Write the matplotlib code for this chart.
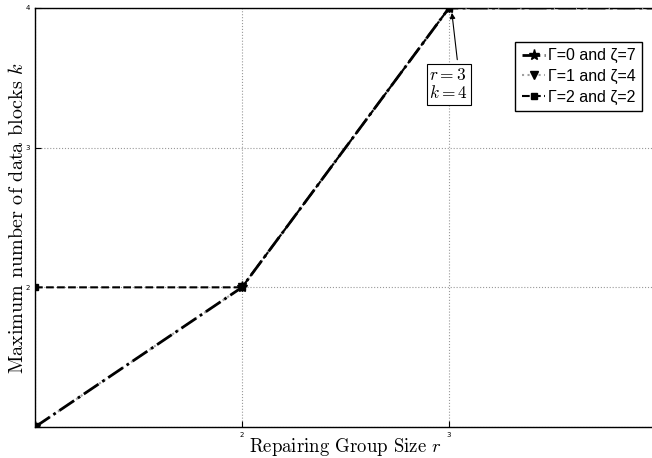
import matplotlib
matplotlib.use("Agg")
import matplotlib.pyplot as plt

plt.rcParams['mathtext.fontset'] = 'cm'

# data
r = [1, 2, 3, 4]
k_g0 = [1, 2, 4, 4]    # Gamma=0, zeta=7
k_g1 = [1, 2, 4, 4]    # Gamma=1, zeta=4
k_g2 = [2, 2, 4, 4]    # Gamma=2, zeta=2
labels = [u'Γ=0 and ζ=7', u'Γ=1 and ζ=4', u'Γ=2 and ζ=2']

fig = plt.figure(figsize=(6.52, 4.58), dpi=100)
ax = fig.add_axes([35 / 652, 31 / 458, 621 / 652, 419 / 458])

ax.plot(r, k_g0, color='k', ls='-.', lw=2, marker='*', ms=8, label=labels[0], zorder=5)
ax.plot(r, k_g1, color='#a0a0a0', ls=':', lw=1.5, marker='v', ms=6,
        mfc='k', mec='k', label=labels[1], zorder=3)
ax.plot(r, k_g2, color='k', ls='--', lw=1.5, marker='s', ms=5, label=labels[2], zorder=4)

ax.set_xlim(1, 4)
ax.set_ylim(1, 4)
ax.set_xticks([1, 2, 3, 4])
ax.set_yticks([1, 2, 3, 4])
ax.set_xticklabels(['', '2', '3', ''])
ax.set_yticklabels(['', '2', '3', '4'])
ax.tick_params(labelsize=5, direction='in', length=4, width=0.8)
ax.grid(True, ls=':', color='#999999', lw=0.8)
for s in ax.spines.values():
    s.set_linewidth(1.0)

ax.set_xlabel(r'Repairing Group Size $r$', fontname='cmr10', fontsize=13.5, labelpad=-1)
ax.set_ylabel(r'Maximum number of data blocks $k$', fontname='cmr10',
              fontsize=14.5, labelpad=-1)

ax.text(2.905, 3.325, '$r=3$\n$k=4$', fontsize=12.5, ha='left', va='bottom',
        linespacing=1.0,
        bbox=dict(boxstyle='square,pad=0.15', fc='white', ec='k', lw=0.8))
ax.annotate('', xy=(3.014, 3.965), xytext=(3.04, 3.63),
            arrowprops=dict(arrowstyle='-|>', color='k', lw=0.8,
                            shrinkA=0, shrinkB=0, mutation_scale=8))

leg = ax.legend(loc='upper right', bbox_to_anchor=(0.9775, 0.919), fancybox=False,
                framealpha=1, edgecolor='k', handlelength=1.5, handletextpad=0.15,
                borderpad=0.4, labelspacing=0.35, borderaxespad=0,
                prop={'family': 'Liberation Sans', 'size': 11.5})
leg.get_frame().set_linewidth(1.0)

fig.savefig('out.png', dpi=100)
